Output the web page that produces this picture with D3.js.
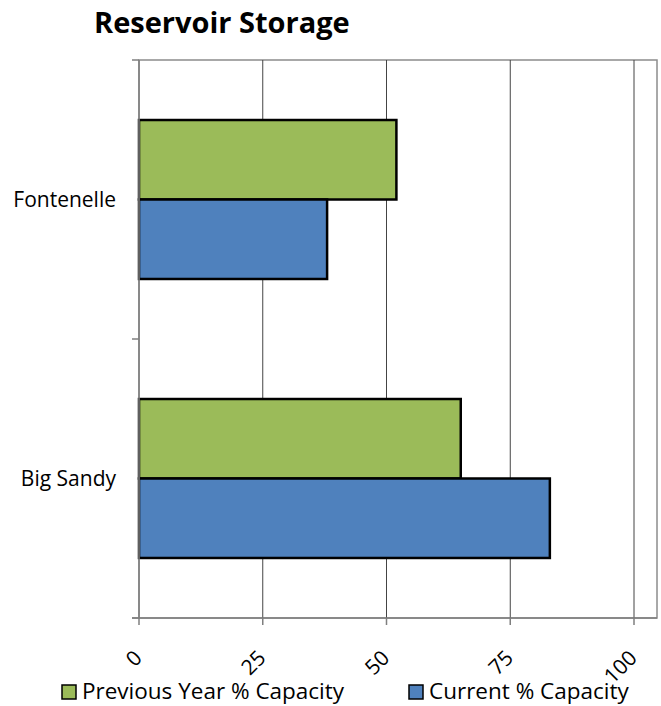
<!DOCTYPE html>
<html><head><meta charset="utf-8">
<script src="https://cdn.jsdelivr.net/npm/d3@7"></script>
<style>body{margin:0;background:#fff}svg{display:block}text{font-family:"Open Sans",Lato,sans-serif}</style>
</head><body>
<script>
const categories = ["Fontenelle", "Big Sandy"];
const seriesNames = ["Previous Year % Capacity", "Current % Capacity"];
const previousYear = [52, 65];
const current = [38, 83];
const xTicks = [0, 25, 50, 75, 100];
const colors = ["#9BBB59", "#4F81BD"];

(function () {
const W = 661, H = 706;
const svg = d3.select("body").append("svg").attr("width", W).attr("height", H);
const pl = 139, pt = 60, pb = 618, pr = 657;
const x = d3.scaleLinear().domain([0, 100]).range([pl, 634]);
const y = d3.scaleBand().domain(categories).range([pt, pb]);
const inner = d3.scaleBand().domain(seriesNames).range([0, y.bandwidth()]).paddingInner(0).paddingOuter(0.755);

// title
svg.append("text").attr("x", 94).attr("y", 33).attr("font-size", 29).attr("font-weight", "bold").text("Reservoir Storage");

// plot border
svg.append("rect").attr("x", pl).attr("y", pt).attr("width", pr - pl).attr("height", pb - pt)
  .attr("fill", "none").attr("stroke", "#8c8c8c").attr("stroke-width", 1.5);

// gridlines
svg.append("g").selectAll("line").data(xTicks.slice(1)).join("line")
  .attr("x1", d => x(d)).attr("x2", d => x(d)).attr("y1", pt).attr("y2", pb)
  .attr("stroke", "#444").attr("stroke-width", 1);

// bars
const data = [];
categories.forEach((c, i) => {
  data.push({cat: c, s: seriesNames[0], v: previousYear[i], col: colors[0]});
  data.push({cat: c, s: seriesNames[1], v: current[i], col: colors[1]});
});
svg.append("g").selectAll("rect").data(data).join("rect")
  .attr("x", x(0)).attr("y", d => y(d.cat) + inner(d.s))
  .attr("width", d => x(d.v) - x(0)).attr("height", inner.bandwidth())
  .attr("fill", d => d.col).attr("stroke", "#000").attr("stroke-width", 2.5);

// y axis
const ya = svg.append("g");
ya.append("line").attr("x1", pl).attr("x2", pl).attr("y1", pt).attr("y2", pb).attr("stroke", "#7f7f7f").attr("stroke-width", 1.5);
const yTickPos = [pt, pt + y.step(), pb];
ya.selectAll("line.t").data(yTickPos).join("line").attr("class", "t")
  .attr("x1", pl - 7).attr("x2", pl).attr("y1", d => d).attr("y2", d => d).attr("stroke", "#7f7f7f").attr("stroke-width", 1.5);
ya.selectAll("text").data(categories).join("text")
  .attr("x", 116).attr("y", d => y(d) + y.bandwidth() / 2).attr("dy", "0.35em")
  .attr("text-anchor", "end").attr("font-size", 21).text(d => d);

// x axis
const xa = svg.append("g");
xa.append("line").attr("x1", pl - 7).attr("x2", pr).attr("y1", pb).attr("y2", pb).attr("stroke", "#7f7f7f").attr("stroke-width", 1.5);
xa.selectAll("line.t").data(xTicks).join("line").attr("class", "t")
  .attr("x1", d => x(d)).attr("x2", d => x(d)).attr("y1", pb).attr("y2", pb + 7).attr("stroke", "#7f7f7f").attr("stroke-width", 1.5);
xa.selectAll("text").data(xTicks).join("text")
  .attr("transform", d => `translate(${x(d) - 1},${pb + 36}) rotate(-45)`)
  .attr("text-anchor", "end").attr("dy", "0.35em").attr("font-size", 21).text(d => d);

// legend
const lg = svg.append("g");
const legX = [62, 409];
seriesNames.forEach((s, i) => {
  lg.append("rect").attr("x", legX[i]).attr("y", 685).attr("width", 14).attr("height", 14)
    .attr("fill", colors[i]).attr("stroke", "#000").attr("stroke-width", 1.5);
  lg.append("text").attr("x", legX[i] + 20).attr("y", 699).attr("font-size", 22.5).text(s);
});
})();
</script>
</body></html>
